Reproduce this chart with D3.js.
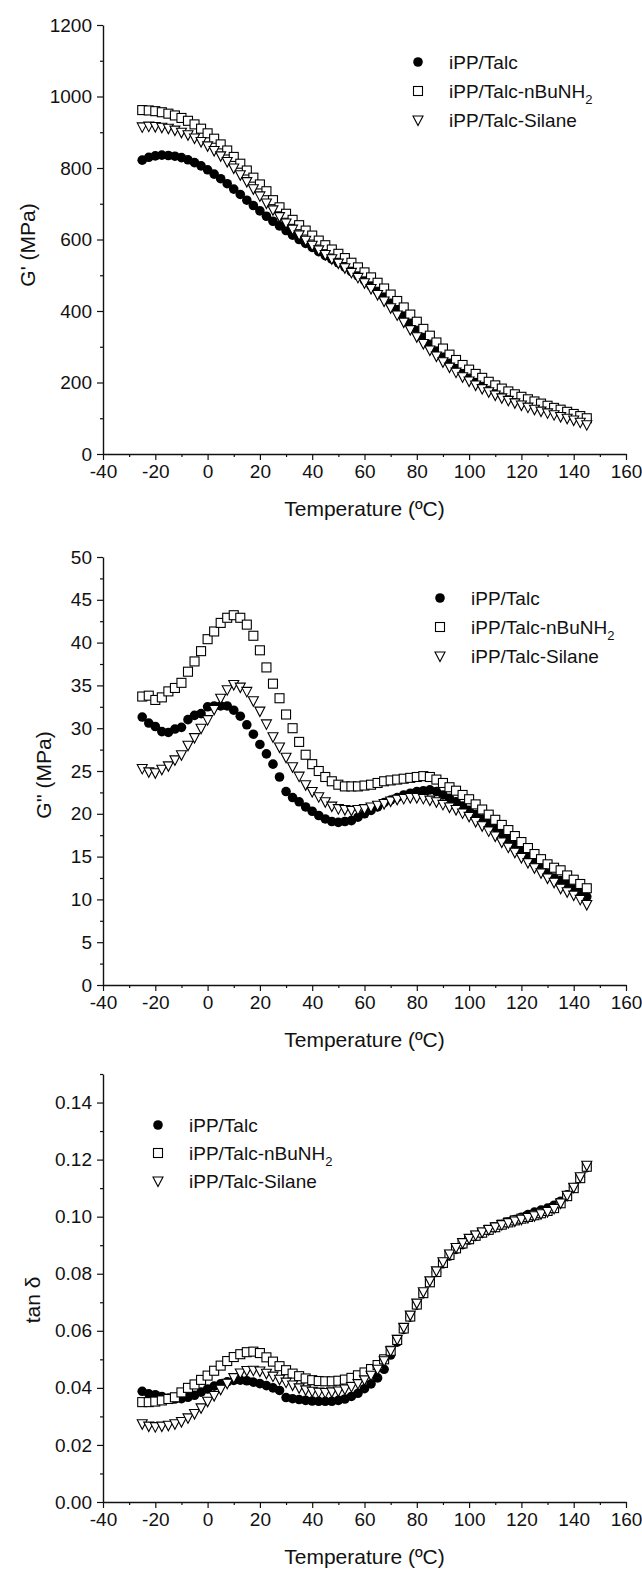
<!DOCTYPE html>
<html><head><meta charset="utf-8">
<script src="https://cdn.jsdelivr.net/npm/d3@7"></script>
<style>
body{margin:0;background:#fff}
svg{display:block}
text{font-family:"Liberation Sans",Arial,sans-serif;fill:#111}
</style>
</head><body>
<svg id="c" width="642" height="1576"></svg>
<script>
// ---------- data ----------
const temps = [
 -25,-22.5,-20,-17.5,-15,-12.5,-10,-7.5,-5,-2.5,
 0,2.5,5,7.5,10,12.5,15,17.5,20,22.5,
 25,27.5,30,32.5,35,37.5,40,42.5,45,47.5,
 50,52.5,55,57.5,60,62.5,65,67.5,70,72.5,
 75,77.5,80,82.5,85,87.5,90,92.5,95,97.5,
 100,102.5,105,107.5,110,112.5,115,117.5,120,122.5,
 125,127.5,130,132.5,135,137.5,140,142.5,145];

const seriesNames = ["iPP/Talc", "iPP/Talc-nBuNH", "iPP/Talc-Silane"];
const seriesSub = ["", "2", ""];

// G' (MPa)
const storTalc = [
 822,830,834,836,835,833,829,823,815,806,
 795,783,770,756,741,726,710,695,680,665,
 651,638,625,612,600,589,578,566,555,545,
 535,523,510,498,485,470,455,438,420,403,
 385,366,347,328,310,292,276,260,246,233,
 221,210,200,190,181,173,165,158,151,145,
 139,133,127,122,117,112,107,102,97];
const storBu = [
 962,961,959,956,952,947,940,932,922,910,
 897,882,866,849,831,812,793,773,754,735,
 710,690,672,655,640,625,611,597,584,572,
 560,548,535,522,508,494,479,463,446,428,
 410,390,370,350,331,312,295,278,263,249,
 236,224,213,202,192,183,175,167,160,153,
 147,141,135,129,124,118,112,106,100];
const storSil = [
 915,917,916,914,911,906,900,893,884,874,
 862,849,834,818,800,781,762,742,722,702,
 683,664,646,629,613,598,584,571,558,546,
 534,521,508,494,479,463,446,428,409,389,
 369,348,328,309,291,274,258,243,229,216,
 204,193,183,174,165,157,150,143,137,131,
 125,120,115,110,105,100,95,89,82];

// G'' (MPa)
const lossTalc = [
 31.3,30.6,30.2,29.6,29.5,29.9,30.1,31.0,31.5,31.7,
 32.5,32.6,32.6,32.6,32.1,31.4,30.4,29.3,28.1,27.0,
 25.8,24.3,22.6,21.9,21.4,20.8,20.3,19.8,19.4,19.1,
 19.0,19.1,19.2,19.6,20.0,20.4,20.8,21.3,21.6,21.9,
 22.2,22.4,22.6,22.7,22.8,22.6,22.2,21.8,21.4,20.9,
 20.4,19.9,19.4,18.9,18.4,17.7,17.0,16.3,15.6,14.9,
 14.2,13.6,13.0,12.5,12.2,11.8,11.2,10.7,10.3];
const lossBu = [
 33.7,33.8,33.3,33.6,34.3,34.7,35.3,36.6,37.8,39.0,
 40.4,41.3,42.3,42.9,43.2,42.9,42.1,40.8,39.1,37.1,
 35.2,33.5,31.6,30.0,28.4,26.9,25.8,25.0,24.3,23.8,
 23.4,23.2,23.2,23.2,23.3,23.4,23.6,23.8,23.9,24.0,
 24.1,24.2,24.3,24.4,24.3,24.0,23.6,23.1,22.7,22.2,
 21.7,21.1,20.5,19.9,19.3,18.7,18.1,17.4,16.7,16.0,
 15.3,14.7,14.1,13.7,13.4,12.8,12.3,11.8,11.3];
const lossSil = [
 25.3,24.9,24.8,25.2,25.6,26.3,26.9,28.0,28.9,30.0,
 31.0,32.2,33.5,34.5,35.1,34.8,34.3,33.2,32.0,30.5,
 29.0,27.8,26.6,25.5,24.4,23.4,22.6,22.0,21.4,20.9,
 20.6,20.5,20.4,20.5,20.6,20.8,21.0,21.2,21.5,21.7,
 21.8,21.9,21.9,21.8,21.6,21.4,21.1,20.8,20.5,20.1,
 19.7,19.1,18.6,18.0,17.4,16.7,16.1,15.5,14.9,14.3,
 13.7,13.1,12.5,12.0,11.3,10.9,10.5,10.0,9.4];

// tan delta
const tanTalc = [
 .0388,.0379,.0376,.0370,.0364,.0361,.0362,.0367,.0374,.0385,
 .0396,.0406,.0414,.0421,.0426,.0427,.0425,.0420,.0415,.0408,
 .0400,.0391,.0366,.0362,.0359,.0356,.0354,.0353,.0353,.0353,
 .0356,.0361,.0370,.0381,.0397,.0414,.0435,.0465,.0515,.0560,
 .0605,.0648,.0690,.0730,.0770,.0805,.0835,.0862,.0885,.0902,
 .0918,.0931,.0942,.0952,.0962,.0972,.0981,.0990,.0998,.1007,
 .1016,.1023,.1030,.1040,.1054,.1077,.1102,.1138,.1172];
const tanBu = [
 .0350,.0350,.0352,.0356,.0361,.0367,.0384,.0400,.0412,.0428,
 .0443,.0460,.0478,.0494,.0508,.0518,.0525,.0527,.0522,.0507,
 .0492,.0476,.0462,.0450,.0441,.0433,.0427,.0424,.0423,.0423,
 .0425,.0429,.0435,.0444,.0454,.0466,.0480,.0500,.0530,.0568,
 .0608,.0650,.0692,.0732,.0770,.0806,.0838,.0866,.0889,.0906,
 .0921,.0933,.0944,.0954,.0963,.0972,.0980,.0987,.0993,.0999,
 .1005,.1012,.1020,.1030,.1047,.1072,.1100,.1135,.1175];
const tanSil = [
 .0274,.0266,.0264,.0266,.0269,.0274,.0282,.0295,.0310,.0330,
 .0353,.0373,.0395,.0416,.0436,.0452,.0461,.0462,.0459,.0451,
 .0441,.0430,.0420,.0410,.0400,.0393,.0388,.0385,.0384,.0386,
 .0389,.0396,.0405,.0415,.0428,.0444,.0465,.0495,.0530,.0570,
 .0612,.0655,.0697,.0737,.0775,.0810,.0842,.0869,.0892,.0909,
 .0924,.0936,.0946,.0955,.0964,.0972,.0979,.0985,.0991,.0997,
 .1003,.1010,.1018,.1029,.1048,.1075,.1103,.1140,.1180];

// ticks
const xTicks = [-40,-20,0,20,40,60,80,100,120,140,160];
const xMinor = [-30,-10,10,30,50,70,90,110,130,150];
const storTicks = [0,200,400,600,800,1000,1200];
const storMinor = [100,300,500,700,900,1100];
const lossTicks = [0,5,10,15,20,25,30,35,40,45,50];
const lossMinor = [2.5,7.5,12.5,17.5,22.5,27.5,32.5,37.5,42.5,47.5];
const tanTicks = [0,0.02,0.04,0.06,0.08,0.10,0.12,0.14];
const tanMinor = [0.01,0.03,0.05,0.07,0.09,0.11,0.13,0.15];

const xTitle = "Temperature (ºC)";
const yTitles = ["G' (MPa)", "G'' (MPa)", "tan δ"];

// ---------- layout ----------
const svg = d3.select("#c");
const X0 = 103, X1 = 626;
const intFmt = d => String(d);
const panels = [
  {series:[storTalc,storBu,storSil], dom:[0,1200], top:25, bot:454, ticks:storTicks, minor:storMinor, fmt:intFmt,
   yTitle:yTitles[0], ytx:28, yty:245, leg:{x:418, tx:449, y:62, dy:29}},
  {series:[lossTalc,lossBu,lossSil], dom:[0,50], top:557, bot:985, ticks:lossTicks, minor:lossMinor, fmt:intFmt,
   yTitle:yTitles[1], ytx:44, yty:775, leg:{x:440, tx:471, y:598, dy:29}},
  {series:[tanTalc,tanBu,tanSil], dom:[0,0.15], top:1074, bot:1502, ticks:tanTicks, minor:tanMinor, fmt:d3.format(".2f"),
   yTitle:yTitles[2], ytx:33, yty:1300, leg:{x:158, tx:189, y:1125, dy:28}}
];

const x = d3.scaleLinear().domain([-40,160]).range([X0,X1]);

function drawMarker(g, k, px, py){
  if(k===0){
    g.append("circle").attr("cx",px).attr("cy",py).attr("r",4.8).attr("fill","#000");
  } else if(k===1){
    g.append("rect").attr("x",px-4.5).attr("y",py-4.5).attr("width",9).attr("height",9)
      .attr("fill","#fff").attr("stroke","#000").attr("stroke-width",1.1);
  } else {
    g.append("path").attr("d",`M${px-5},${py-4}L${px+5},${py-4}L${px},${py+5.5}Z`)
      .attr("fill","#fff").attr("stroke","#000").attr("stroke-width",1.1);
  }
}

panels.forEach(p=>{
  const y = d3.scaleLinear().domain(p.dom).range([p.bot,p.top]);
  const g = svg.append("g");

  // minor ticks
  g.append("g").attr("transform",`translate(0,${p.bot})`)
    .call(d3.axisBottom(x).tickValues(xMinor).tickSize(3).tickFormat("").tickSizeOuter(0))
    .call(a=>a.select(".domain").remove());
  g.append("g").attr("transform",`translate(${X0},0)`)
    .call(d3.axisLeft(y).tickValues(p.minor).tickSize(3).tickFormat("").tickSizeOuter(0))
    .call(a=>a.select(".domain").remove());

  // major axes
  const ax = g.append("g").attr("transform",`translate(0,${p.bot})`)
    .call(d3.axisBottom(x).tickValues(xTicks).tickSize(6).tickPadding(5).tickFormat(intFmt).tickSizeOuter(0));
  const ay = g.append("g").attr("transform",`translate(${X0},0)`)
    .call(d3.axisLeft(y).tickValues(p.ticks).tickSize(6).tickPadding(5).tickFormat(p.fmt).tickSizeOuter(0));
  [ax,ay].forEach(a=>{
    a.selectAll("text").attr("font-size",19).attr("font-family",'"Liberation Sans",Arial,sans-serif').attr("fill","#111");
    a.select(".domain").attr("stroke","#111").attr("stroke-width",1.4);
  });
  g.selectAll(".tick line").attr("stroke","#111").attr("stroke-width",1.2);

  // titles
  g.append("text").attr("x",(X0+X1)/2).attr("y",p.bot+62).attr("text-anchor","middle")
    .attr("font-size",21).text(xTitle);
  g.append("text").attr("transform",`translate(${p.ytx},${p.yty}) rotate(-90)`)
    .attr("text-anchor","middle").attr("dy","0.35em").attr("font-size",21).text(p.yTitle);

  // data
  p.series.forEach((vals,k)=>{
    const sg = g.append("g");
    vals.forEach((v,i)=>{ drawMarker(sg,k,x(temps[i]),y(v)); });
  });

  // legend
  seriesNames.forEach((nm,k)=>{
    const ly = p.leg.y + k*p.leg.dy;
    drawMarker(g,k,p.leg.x,ly);
    const t = g.append("text").attr("x",p.leg.tx).attr("y",ly).attr("dy","0.36em").attr("font-size",19).text(nm);
    if(seriesSub[k]) t.append("tspan").attr("dy","0.45em").attr("font-size",13).text(seriesSub[k]);
  });
});
</script>
</body></html>
